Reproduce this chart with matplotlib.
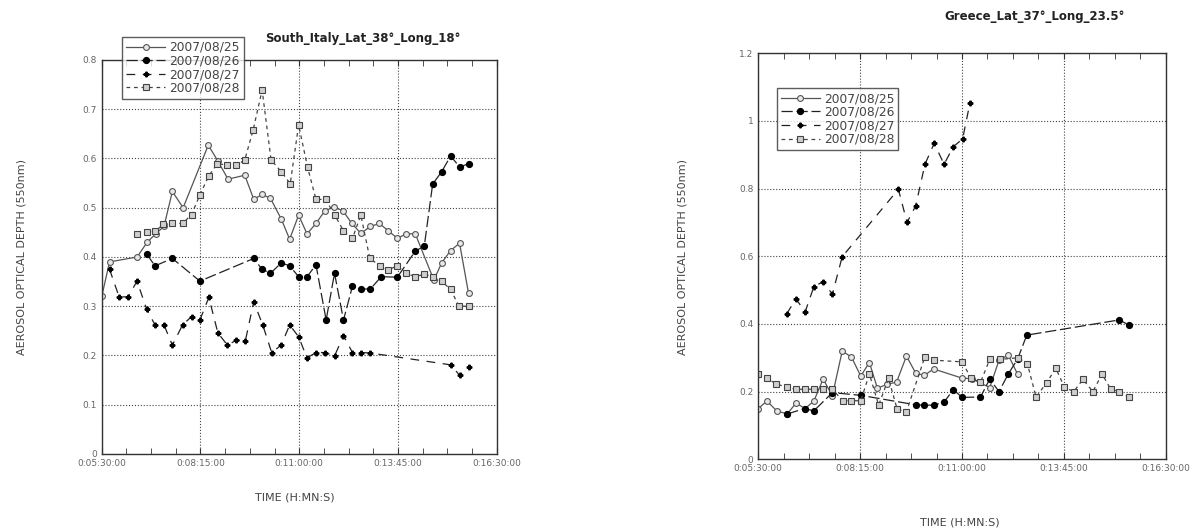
import matplotlib
matplotlib.use("Agg")
import matplotlib.pyplot as plt
from matplotlib.ticker import MultipleLocator, FuncFormatter

# times are minutes of the day
labels = ['2007/08/25', '2007/08/26', '2007/08/27', '2007/08/28']

# South Italy
it_t25 = [330, 343, 389, 406, 420, 434, 448, 466, 508, 524, 541, 569, 584, 598, 612, 630, 644, 659,
          673, 688, 703, 718, 733, 748, 763, 779, 794, 809, 824, 839, 854, 885, 898, 913, 928, 943]
it_v25 = [0.32, 0.39, 0.40, 0.43, 0.447, 0.462, 0.533, 0.50, 0.627, 0.595, 0.558, 0.566, 0.517, 0.527,
          0.519, 0.477, 0.436, 0.485, 0.447, 0.468, 0.494, 0.501, 0.494, 0.468, 0.448, 0.462, 0.468,
          0.453, 0.438, 0.447, 0.447, 0.353, 0.388, 0.413, 0.428, 0.326]
it_t26 = [405, 419, 448, 494, 584, 598, 612, 630, 644, 659, 673, 688, 705, 719, 734, 749, 764, 779,
          797, 824, 854, 869, 883, 898, 913, 928, 943]
it_v26 = [0.406, 0.382, 0.397, 0.351, 0.397, 0.375, 0.367, 0.388, 0.382, 0.360, 0.360, 0.384, 0.272,
          0.367, 0.272, 0.341, 0.335, 0.335, 0.360, 0.359, 0.412, 0.422, 0.548, 0.573, 0.605, 0.583, 0.589]
it_t27 = [343, 359, 374, 389, 405, 419, 434, 448, 465, 480, 494, 509, 524, 540, 555, 570, 584, 599,
          614, 630, 644, 659, 673, 688, 703, 719, 734, 749, 764, 779, 913, 928, 943]
it_v27 = [0.375, 0.319, 0.319, 0.351, 0.294, 0.262, 0.262, 0.221, 0.262, 0.279, 0.272, 0.318, 0.246,
          0.221, 0.231, 0.230, 0.309, 0.262, 0.206, 0.221, 0.262, 0.238, 0.195, 0.206, 0.206, 0.199,
          0.240, 0.206, 0.206, 0.205, 0.181, 0.160, 0.176]
it_t28 = [389, 405, 419, 433, 448, 465, 480, 494, 509, 523, 540, 555, 569, 583, 598, 613, 630, 645,
          659, 674, 688, 704, 719, 734, 749, 763, 778, 795, 809, 824, 838, 854, 869, 884, 898, 913, 927, 943]
it_v28 = [0.447, 0.451, 0.452, 0.466, 0.468, 0.468, 0.486, 0.526, 0.565, 0.589, 0.587, 0.586, 0.597,
          0.658, 0.739, 0.597, 0.573, 0.549, 0.668, 0.582, 0.517, 0.517, 0.486, 0.453, 0.438, 0.485,
          0.397, 0.382, 0.374, 0.382, 0.367, 0.360, 0.365, 0.360, 0.351, 0.334, 0.300, 0.300]

# Greece
gr_t25 = [330, 344, 360, 377, 391, 406, 420, 435, 450, 466, 481, 496, 510, 523, 539, 554, 570, 585,
          599, 614, 660, 676, 705, 720, 735, 750]
gr_v25 = [0.150, 0.172, 0.143, 0.134, 0.166, 0.150, 0.172, 0.237, 0.188, 0.320, 0.302, 0.246, 0.286,
          0.210, 0.222, 0.228, 0.305, 0.255, 0.248, 0.267, 0.240, 0.238, 0.212, 0.293, 0.308, 0.252]
gr_t26 = [377, 405, 420, 450, 496, 585, 599, 614, 631, 646, 660, 690, 705, 720, 735, 750, 765, 915, 930]
gr_v26 = [0.134, 0.150, 0.143, 0.197, 0.189, 0.161, 0.160, 0.160, 0.169, 0.206, 0.183, 0.184, 0.237,
          0.200, 0.252, 0.296, 0.367, 0.412, 0.397]
gr_t27 = [376, 391, 406, 420, 435, 450, 466, 557, 571, 585, 600, 615, 631, 646, 661, 673]
gr_v27 = [0.430, 0.474, 0.436, 0.510, 0.525, 0.488, 0.599, 0.798, 0.700, 0.749, 0.872, 0.934, 0.872,
          0.924, 0.947, 1.054]
gr_t28 = [330, 344, 359, 376, 391, 406, 420, 435, 450, 467, 481, 496, 510, 525, 541, 555, 570, 600,
          614, 660, 675, 690, 705, 721, 750, 766, 780, 797, 812, 826, 841, 856, 872, 887, 901, 915, 930]
gr_v28 = [0.252, 0.239, 0.223, 0.213, 0.207, 0.207, 0.207, 0.207, 0.207, 0.173, 0.173, 0.173, 0.252,
          0.160, 0.239, 0.148, 0.141, 0.303, 0.293, 0.288, 0.239, 0.228, 0.295, 0.295, 0.300, 0.282,
          0.184, 0.226, 0.269, 0.213, 0.200, 0.236, 0.200, 0.252, 0.207, 0.200, 0.183]

styles = [
    dict(color='#555555', ls='-', lw=0.9, marker='o', ms=4.2, mfc='#e8e8e8', mec='#555555', mew=0.8),
    dict(color='#222222', ls=(0, (9, 3)), lw=0.9, marker='o', ms=4.2, mfc='black', mec='black'),
    dict(color='#222222', ls=(0, (7, 6)), lw=0.9, marker='P', ms=3.3, mfc='black', mec='black'),
    dict(color='#444444', ls=(0, (3, 3)), lw=0.9, marker='s', ms=4.2, mfc='#cfcfcf', mec='#444444', mew=0.8),
]


def fmt_time(x, pos):
    h = int(x // 60)
    m = int(x % 60)
    return '0:%02d:%02d:00' % (h, m)


def style_axes(ax, ymax, ystep):
    ax.set_xlim(330, 990)
    ax.set_ylim(0, ymax)
    ax.xaxis.set_major_locator(MultipleLocator(165))
    ax.xaxis.set_minor_locator(MultipleLocator(41.25))
    ax.xaxis.set_major_formatter(FuncFormatter(fmt_time))
    ax.yaxis.set_major_locator(MultipleLocator(ystep))
    ax.yaxis.set_major_formatter(FuncFormatter(lambda v, p: '%g' % round(v, 2)))
    ax.grid(True, which='major', ls=':', color='#444444', lw=0.8)
    ax.tick_params(which='both', direction='in', top=True, right=False, labelsize=6.5,
                   labelcolor='#666666', color='#333333')
    ax.tick_params(which='major', length=4)
    ax.tick_params(which='minor', length=4)
    ax.tick_params(axis='y', length=0)
    for s in ax.spines.values():
        s.set_color('#333333')
        s.set_linewidth(1.0)


fig = plt.figure(figsize=(12, 5.29), dpi=100)

ax1 = fig.add_axes([0.0848, 0.1418, 0.3291, 0.7448])
for t, v, lab, st in zip([it_t25, it_t26, it_t27, it_t28], [it_v25, it_v26, it_v27, it_v28], labels, styles):
    ax1.plot(t, v, label=lab, **st)
style_axes(ax1, 0.8, 0.1)
leg = ax1.legend(loc='upper left', bbox_to_anchor=(0.035, 1.075), fontsize=8.8, frameon=True,
                 fancybox=False, edgecolor='#333333', handlelength=3.2, borderpad=0.35,
                 labelspacing=0.05, handletextpad=0.3, labelcolor='#444444')
leg.get_frame().set_linewidth(1.0)
fig.text(0.302, 0.928, 'South_Italy_Lat_38°_Long_18°', fontsize=8.5, fontweight='bold',
         color='#222222', ha='center', va='center')
fig.text(0.246, 0.06, 'TIME (H:MN:S)', fontsize=8, color='#444444', ha='center', va='center')
fig.text(0.018, 0.515, 'AEROSOL OPTICAL DEPTH (550nm)', fontsize=8, color='#444444',
         rotation=90, ha='center', va='center')

ax2 = fig.add_axes([0.6319, 0.1318, 0.3395, 0.7674])
for t, v, lab, st in zip([gr_t25, gr_t26, gr_t27, gr_t28], [gr_v25, gr_v26, gr_v27, gr_v28], labels, styles):
    ax2.plot(t, v, label=lab, **st)
style_axes(ax2, 1.2, 0.2)
leg = ax2.legend(loc='upper left', bbox_to_anchor=(0.03, 0.93), fontsize=8.8, frameon=True,
                 fancybox=False, edgecolor='#333333', handlelength=3.2, borderpad=0.35,
                 labelspacing=0.05, handletextpad=0.3, labelcolor='#444444')
leg.get_frame().set_linewidth(1.0)
fig.text(0.862, 0.968, 'Greece_Lat_37°_Long_23.5°', fontsize=8.5, fontweight='bold',
         color='#222222', ha='center', va='center')
fig.text(0.80, 0.013, 'TIME (H:MN:S)', fontsize=8, color='#444444', ha='center', va='center')
fig.text(0.569, 0.515, 'AEROSOL OPTICAL DEPTH (550nm)', fontsize=8, color='#444444',
         rotation=90, ha='center', va='center')

fig.savefig('out.png', dpi=100)
